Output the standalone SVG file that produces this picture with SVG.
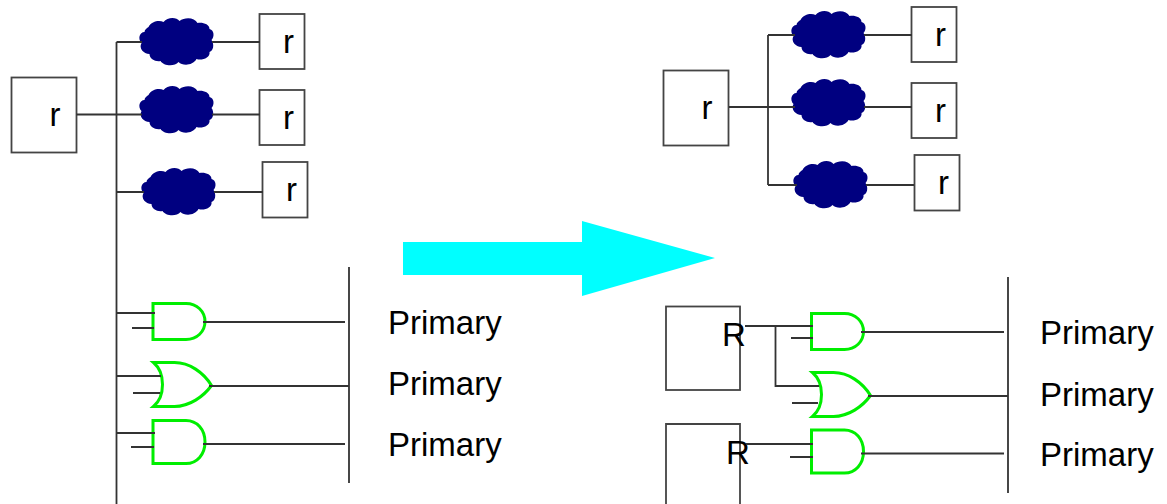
<svg xmlns="http://www.w3.org/2000/svg" width="1167" height="504" viewBox="0 0 1167 504">
<style>
.w{fill:none;stroke:#333;stroke-width:1.8}
.b{fill:#fff;stroke:#444;stroke-width:1.8}
.g{fill:#fff;stroke:#00ee00;stroke-width:3}
.c{fill:#000080}
text{font-family:"Liberation Sans",Arial,sans-serif;font-size:33px;fill:#000}
</style>
<defs>
<path id="cloud" class="c" d="M-28,-15 C-25,-21 -17,-22 -13,-20 C-9,-25 0,-25 3,-21 C8,-25 18,-25 21,-19 C26,-20 33,-18 33,-13 C38,-12 38,-5 35,-2 C38,2 37,9 33,10 C34,16 25,19 20,17 C16,24 6,24 2,20 C-2,25 -13,24 -16,19 C-21,20 -27,17 -27,12 C-33,12 -38,6 -35,1 C-39,-3 -37,-10 -32,-10 C-32,-12 -30,-14 -28,-15 Z"/>
<path id="and" class="g" d="M0,0 H33 C44,0 52,8 52,18 C52,28 44,36 33,36 H0 Z"/>
<path id="and2" class="g" d="M0,0 H33 C44,0 52,9 52,21.500 C52,34 44,43 33,43 H0 Z"/>
<path id="or" class="g" d="M0,0 H21 C36,0 50,10 58,23 C50,34 36,44 21,44 H0 C7,38 9,30 9,22 C9,14 7,6 0,0 Z"/>
</defs>

<g id="arrow"><polygon points="403,242 582,242 582,221 715,258 582,296 582,275 403,275" fill="#00ffff"/></g>

<g id="root-left"><rect class="b" x="11.500" y="77.500" width="65" height="75"/><text x="49.500" y="126">r</text></g>
<g id="cloud-l1"><use href="#cloud" x="176.500" y="42"/></g>
<g id="cloud-l2"><use href="#cloud" x="176.500" y="110"/></g>
<g id="cloud-l3"><use href="#cloud" x="178.500" y="192"/></g>
<g id="leaf-l1"><rect class="b" x="259.500" y="14" width="45" height="55"/><text x="283" y="53">r</text></g>
<g id="leaf-l2"><rect class="b" x="259.500" y="90" width="45" height="55"/><text x="283" y="129">r</text></g>
<g id="leaf-l3"><rect class="b" x="262.500" y="162" width="45" height="55.500"/><text x="286" y="201">r</text></g>

<g id="gate-l1"><use href="#and" x="153" y="303.500"/></g>
<g id="gate-l2"><use href="#or" x="153.500" y="362.500"/></g>
<g id="gate-l3"><use href="#and2" x="153" y="420.500"/></g>
<g id="primary-l1"><text x="388" y="334">Primary</text></g>
<g id="primary-l2"><text x="388" y="395">Primary</text></g>
<g id="primary-l3"><text x="388" y="456">Primary</text></g>

<g id="root-right"><rect class="b" x="663.500" y="70.500" width="65" height="75"/><text x="701.500" y="119">r</text></g>
<g id="cloud-r1"><use href="#cloud" x="828.500" y="35"/></g>
<g id="cloud-r2"><use href="#cloud" x="828.500" y="103"/></g>
<g id="cloud-r3"><use href="#cloud" x="830.500" y="185"/></g>
<g id="leaf-r1"><rect class="b" x="911.500" y="7" width="45" height="55"/><text x="935" y="46">r</text></g>
<g id="leaf-r2"><rect class="b" x="911.500" y="83" width="45" height="55"/><text x="935" y="122">r</text></g>
<g id="leaf-r3"><rect class="b" x="914.500" y="155" width="45" height="55.500"/><text x="938" y="194">r</text></g>

<g id="reg-r1"><rect x="666" y="306.500" width="74" height="83.500" fill="none" stroke="#444" stroke-width="1.800"/><text x="722" y="346">R</text></g>
<g id="reg-r2"><path d="M666,504 V424 H740 V504" fill="none" stroke="#444" stroke-width="1.800"/><text x="726" y="464">R</text></g>
<g id="gate-r1"><use href="#and" x="811.500" y="313.500"/></g>
<g id="gate-r2"><use href="#or" x="812.500" y="372.500"/></g>
<g id="gate-r3"><use href="#and2" x="811.500" y="430"/></g>
<g id="primary-r1"><text x="1040" y="344">Primary</text></g>
<g id="primary-r2"><text x="1040" y="406">Primary</text></g>
<g id="primary-r3"><text x="1040" y="466">Primary</text></g>

<g id="connectors">
<path class="w" d="M76.500,114.500 H142 M212,114.500 H260 M116.500,42 V504 M116.500,42 H142 M212,42 H260 M116.500,192 H144 M214,192 H263"/>
<path class="w" d="M117,313 H155 M132,328 H154 M203,322 H345 M117,376 H161 M133,393 H160 M209,386 H349 M117,433 H155 M131,447 H154 M203,444 H345 M349,267 V483"/>
<path class="w" d="M729,107 H795 M864,107 H912 M768,35 V185 M768,35 H795 M864,35 H912 M768,185 H797 M866,185 H914"/>
<path class="w" d="M745,326 H813 M775.500,326 V386 H819 M791,338 H813 M792,403 H818 M861,332 H1004 M868,396 H1008 M746,444 H813 M790,457 H813 M861,453.500 H1004 M1008,277 V493"/>
</g>
</svg>
